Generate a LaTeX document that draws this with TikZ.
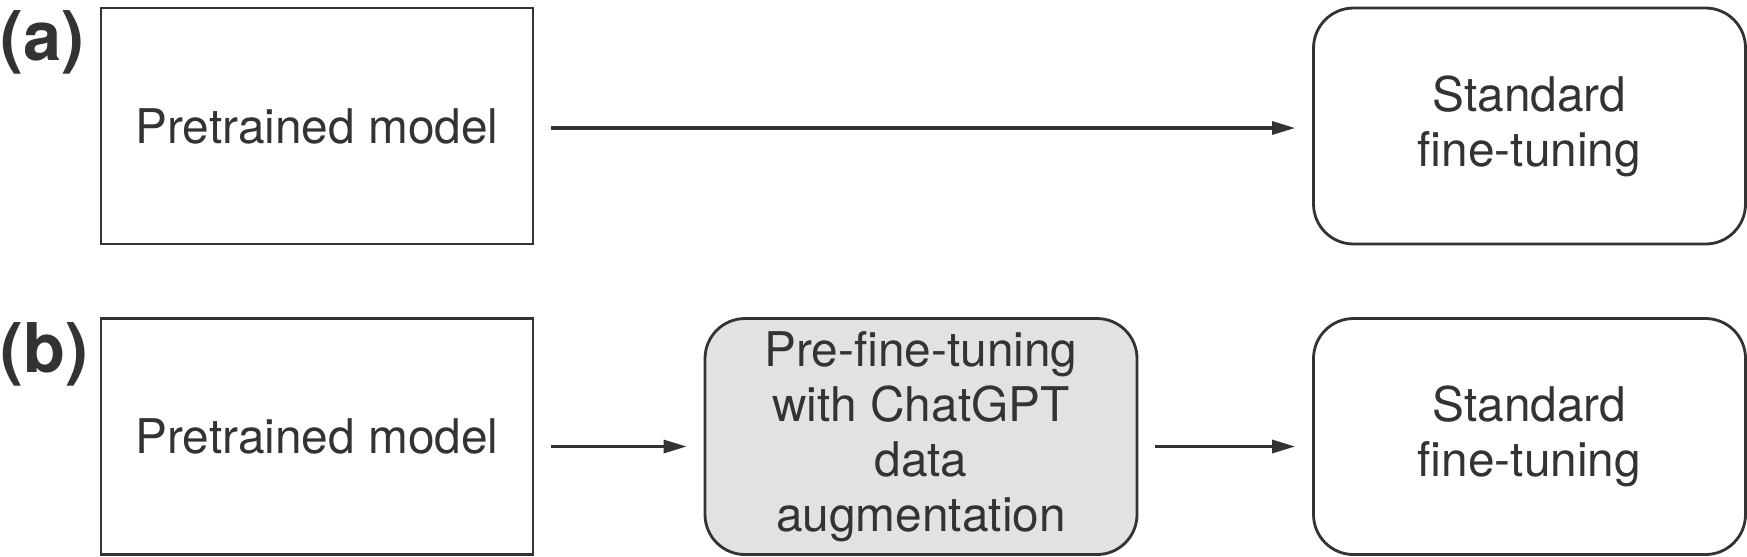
\documentclass[tikz,border=0pt]{standalone}
\usepackage{fontspec}
\setmainfont{TeX Gyre Heros}
\usepackage{tikz}
\usetikzlibrary{arrows.meta,positioning}
\definecolor{inkgray}{HTML}{333333}
\definecolor{boxfill}{HTML}{E2E2E2}
\tikzset{
    stagebox/.style={draw=inkgray,line width=0.8pt,text=inkgray,align=center,
        minimum width=4.32cm,minimum height=2.36cm,inner sep=2pt,
        font=\fontsize{13.6}{15.6}\selectfont},
    roundbox/.style={stagebox,rounded corners=0.4cm},
    graybox/.style={roundbox,fill=boxfill},
    panellabel/.style={anchor=west,inner sep=0pt,text=inkgray,
        font=\fontsize{19.5}{21}\selectfont\bfseries},
    flow/.style={draw=inkgray,line width=0.9pt,-{Triangle[length=2.3mm,width=1.3mm]},
        shorten <=0.17cm,shorten >=0.17cm}
}

\begin{document}
\begin{tikzpicture}
            % Frame
            \useasboundingbox (0,0) rectangle (17.47,-5.56);
            % Coordinates
            \coordinate (PA) at (3.17,-1.26);
            \coordinate (SA) at (15.295,-1.26);
            \coordinate (PB) at (3.17,-4.365);
            \coordinate (CB) at (9.21,-4.365);
            \coordinate (SB) at (15.295,-4.365);
            % Panel labels
            \node[panellabel] (labA) at (0,-0.42) {(a)};
            \node[panellabel] (labB) at (0,-3.54) {(b)};
            % Row (a)
            \node[stagebox] (pretrainA) at (PA) {Pretrained model};
            \node[roundbox] (standardA) at (SA) {Standard\\fine-tuning};
            % Row (b)
            \node[stagebox] (pretrainB) at (PB) {Pretrained model};
            \node[graybox] (chatgptB) at (CB) {Pre-fine-tuning\\with ChatGPT\\data\\augmentation};
            \node[roundbox] (standardB) at (SB) {Standard\\fine-tuning};
            % Arrows
            \draw[flow] ([yshift=-0.02cm]pretrainA.east) -- ([yshift=-0.02cm]standardA.west);
            \foreach \S/\T in {pretrainB/chatgptB, chatgptB/standardB} {
                    \draw[flow] ([yshift=-0.1cm]\S.east) -- ([yshift=-0.1cm]\T.west);
                }
        \end{tikzpicture}
\end{document}
